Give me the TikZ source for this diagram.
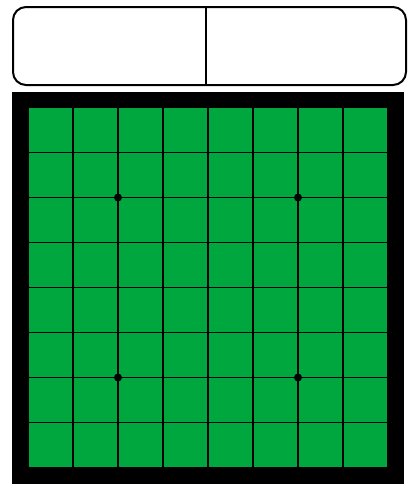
\documentclass[tikz,border=0pt]{standalone}
\definecolor{boardgreen}{RGB}{0,166,62}
\tikzset{
  panel/.style={draw=black, line width=2pt, rounded corners=13pt, fill=white},
  frame/.style={fill=black},
  gridline/.style={draw=black, line width=1.2pt},
  starpt/.style={circle, fill=black, inner sep=0pt, minimum size=8pt}
}
\begin{document}
\begin{tikzpicture}[x=1pt,y=-1pt]
\useasboundingbox (0,0) rectangle (416,496);
% score panel
\node[panel, minimum width=393pt, minimum height=78pt, inner sep=0pt] (score) at (209.5,46) {};
\coordinate (divtop) at (206,7);
\coordinate (divbot) at (206,85);
\draw[line width=2pt] (divtop) -- (divbot);
% board
\fill[frame] (12,92) rectangle (404,484);
\fill[boardgreen] (28,107.5) rectangle (388,467.5);
\foreach \i in {0,...,8} {
  \draw[gridline] (28+45*\i,107.5) -- (28+45*\i,467.5);
  \draw[gridline] (28,107.5+45*\i) -- (388,107.5+45*\i);
}
\node[starpt] (s1) at (118,197.5) {};
\node[starpt] (s2) at (298,197.5) {};
\node[starpt] (s3) at (118,377.5) {};
\node[starpt] (s4) at (298,377.5) {};
\end{tikzpicture}
\end{document}
